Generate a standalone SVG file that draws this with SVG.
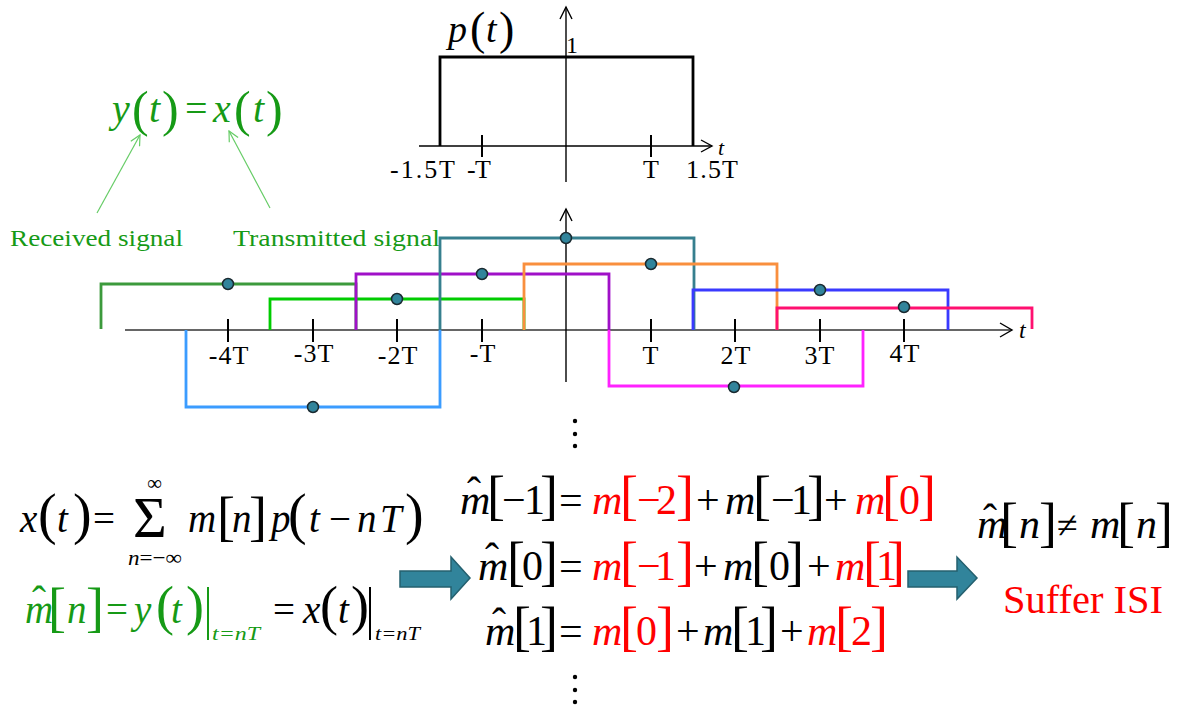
<svg xmlns="http://www.w3.org/2000/svg" width="1177" height="708" viewBox="0 0 1177 708" font-family="'Liberation Serif', 'Times New Roman', serif">
<defs>
<style>
text{font-family:"Liberation Serif","Times New Roman",serif}
.it{font-style:italic}
.eq{font-size:42px}
.br{font-size:54px}
.pa{font-size:56px}
.red{fill:#ff0000}
.grn{fill:#169a16}
.ax{stroke:#000;stroke-width:1.4;fill:none}
.tick{stroke:#000;stroke-width:2}
.lbl{font-size:26px;text-anchor:middle;letter-spacing:1px}
.pulse{fill:none;stroke-width:2.8;stroke-linejoin:miter}
.dot{fill:#31849b;stroke:#1a2a30;stroke-width:1.5}
.bigarrow{fill:#31849b;stroke:#24606f;stroke-width:1.5}
.thin{stroke:#66cc66;stroke-width:1.2;fill:none}
</style>
<marker id="openhead" viewBox="0 0 12 12" refX="11" refY="6" markerWidth="12" markerHeight="12" markerUnits="userSpaceOnUse" orient="auto">
<polyline points="1,1 11,6 1,11" fill="none" stroke="#66cc66" stroke-width="1.2"/>
</marker>
</defs>

<g id="pulse-p">
<line class="ax" x1="419" y1="146" x2="712" y2="146"/>
<polyline class="ax" points="701,140 712,146 701,152"/>
<line class="ax" x1="566" y1="182" x2="566" y2="7"/>
<polyline class="ax" points="560,19 566,7 572,19"/>
<polyline class="pulse" stroke="#000" stroke-width="3" points="440,146 440,57 693,57 693,146"/>
<line class="tick" x1="482" y1="135" x2="482" y2="157"/>
<line class="tick" x1="651" y1="135" x2="651" y2="157"/>
<text x="390" y="178" font-size="26" textLength="65" lengthAdjust="spacing">-1.5T</text>
<text x="467" y="178" font-size="26" textLength="24" lengthAdjust="spacing">-T</text>
<text x="643" y="178" font-size="26">T</text>
<text x="686" y="178" font-size="26" textLength="52" lengthAdjust="spacing">1.5T</text>
<text x="566" y="53" font-size="24">1</text>
<text x="718" y="155" font-size="22" class="it">t</text>
<text font-size="38"><tspan class="it" x="448" y="42">p</tspan><tspan x="470" y="44" font-size="46">(</tspan><tspan class="it" x="486" y="42">t</tspan><tspan x="499" y="44" font-size="46">)</tspan></text>
</g>

<g id="label-yx">
<text class="grn" font-size="40"><tspan class="it" x="112" y="122">y</tspan><tspan x="132" y="126" font-size="50">(</tspan><tspan class="it" x="149" y="122">t</tspan><tspan x="162" y="126" font-size="50">)</tspan><tspan x="185" y="122">=</tspan><tspan class="it" x="213" y="122">x</tspan><tspan x="234" y="126" font-size="50">(</tspan><tspan class="it" x="253" y="122">t</tspan><tspan x="266" y="126" font-size="50">)</tspan></text>
</g>

<g id="label-received">
<text class="grn" x="10" y="246" font-size="23" textLength="173" lengthAdjust="spacingAndGlyphs">Received signal</text>
</g>
<g id="label-transmitted">
<text class="grn" x="233" y="246" font-size="23" textLength="207" lengthAdjust="spacingAndGlyphs">Transmitted signal</text>
</g>

<g id="connectors">
<line class="thin" x1="97" y1="213" x2="140" y2="135" marker-end="url(#openhead)"/>
<line class="thin" x1="270" y1="208" x2="229" y2="131" marker-end="url(#openhead)"/>
<polygon class="bigarrow" points="400,571 451,571 451,557 470,578 451,599 451,587 400,587"/>
<polygon class="bigarrow" points="908,571 957,571 957,557 977,578 957,599 957,587 908,587"/>
</g>

<g id="pulse-train">
<line x1="125" y1="330" x2="1012" y2="330" stroke="#333" stroke-width="1.5"/>
<polyline class="ax" points="1000,323 1012,330 1000,337"/>
<line class="ax" x1="566" y1="382" x2="566" y2="209"/>
<polyline class="ax" points="560,221 566,209 572,221"/>
<g id="ticks">
<line class="tick" x1="228" y1="319" x2="228" y2="342"/>
<line class="tick" x1="313" y1="319" x2="313" y2="342"/>
<line class="tick" x1="397" y1="319" x2="397" y2="342"/>
<line class="tick" x1="482" y1="319" x2="482" y2="342"/>
<line class="tick" x1="651" y1="319" x2="651" y2="342"/>
<line class="tick" x1="735" y1="319" x2="735" y2="342"/>
<line class="tick" x1="820" y1="319" x2="820" y2="342"/>
<line class="tick" x1="904" y1="319" x2="904" y2="342"/>
</g>
<text class="lbl" x="229" y="364">-4T</text>
<text class="lbl" x="314" y="362">-3T</text>
<text class="lbl" x="398" y="364">-2T</text>
<text class="lbl" x="483" y="362">-T</text>
<text class="lbl" x="651" y="364">T</text>
<text class="lbl" x="736" y="364">2T</text>
<text class="lbl" x="820" y="364">3T</text>
<text class="lbl" x="905" y="362">4T</text>
<text x="1019" y="338" font-size="24" class="it">t</text>

<g id="p-m4"><polyline class="pulse" stroke="#3c9a3c" points="101,329 101,284 356,284 356,330"/></g>
<g id="p-m3"><polyline class="pulse" stroke="#3b9cff" points="186,330 186,407 440,407 440,330"/></g>
<g id="p-m2"><polyline class="pulse" stroke="#00cc00" points="270,330 270,299 524,299 524,330"/></g>
<g id="p-m1"><polyline class="pulse" stroke="#a010c8" points="356,330 356,274 609,274 609,330"/></g>
<g id="p-0"><polyline class="pulse" stroke="#367f8e" points="440,330 440,238 694,238 694,330"/></g>
<g id="p-1"><polyline class="pulse" stroke="#f98f3e" points="524,330 524,264 777,264 777,330"/></g>
<g id="p-2"><polyline class="pulse" stroke="#ff22ff" points="609,330 609,386 863,386 863,330"/></g>
<g id="p-3"><polyline class="pulse" stroke="#3a3aff" points="693,330 693,290 948,290 948,330"/></g>
<g id="p-4"><polyline class="pulse" stroke="#ff1070" points="777,330 777,308 1032,308 1032,329"/></g>

<circle class="dot" cx="228" cy="284" r="5.5"/>
<circle class="dot" cx="313" cy="407" r="5.5"/>
<circle class="dot" cx="397" cy="299" r="5.5"/>
<circle class="dot" cx="482" cy="274" r="5.5"/>
<circle class="dot" cx="566" cy="238" r="5.5"/>
<circle class="dot" cx="651" cy="264" r="5.5"/>
<circle class="dot" cx="734" cy="387" r="5.5"/>
<circle class="dot" cx="820" cy="290" r="5.5"/>
<circle class="dot" cx="904" cy="307" r="5.5"/>
</g>

<g id="vdots-1">
<circle cx="575" cy="421" r="2.2"/>
<circle cx="575" cy="434" r="2.2"/>
<circle cx="575" cy="446" r="2.2"/>
</g>

<g id="eq-x">
<text font-size="39"><tspan class="it" x="20" y="532">x</tspan><tspan class="pa" x="38" y="533">(</tspan><tspan class="it" x="57" y="532">t</tspan><tspan class="pa" x="73" y="533">)</tspan><tspan x="93" y="532">=</tspan><tspan x="133" y="537" font-size="58">Σ</tspan><tspan class="it" x="188" y="532">m</tspan><tspan class="br" x="217" y="535">[</tspan><tspan class="it" x="232" y="532">n</tspan><tspan class="br" x="249" y="535">]</tspan><tspan class="it" x="271" y="532">p</tspan><tspan class="pa" x="288" y="533">(</tspan><tspan class="it" x="309" y="532">t</tspan><tspan x="329" y="532">−</tspan><tspan class="it" x="357" y="532">n</tspan><tspan class="it" x="380" y="532">T</tspan><tspan class="pa" x="405" y="533">)</tspan></text>
<text x="147" y="490" font-size="21">∞</text>
<text x="128" y="565" font-size="22" textLength="54" lengthAdjust="spacingAndGlyphs"><tspan class="it">n</tspan>=−∞</text>
</g>

<g id="eq-mhat">
<text class="grn" font-size="39"><tspan class="it" x="25" y="623">m</tspan><tspan x="32" y="615" font-size="42">ˆ</tspan><tspan class="br" x="48" y="626">[</tspan><tspan class="it" x="67" y="623">n</tspan><tspan class="br" x="86" y="626">]</tspan><tspan x="106" y="623">=</tspan><tspan class="it" x="134" y="623">y</tspan><tspan x="156" y="624" font-size="54">(</tspan><tspan class="it" x="171" y="623">t</tspan><tspan x="186" y="624" font-size="54">)</tspan></text>
<line x1="208" y1="587" x2="208" y2="640" stroke="#169a16" stroke-width="2"/>
<text class="grn it" x="212" y="640" font-size="18" textLength="48" lengthAdjust="spacingAndGlyphs">t=nT</text>
<text font-size="39"><tspan x="273" y="623">=</tspan><tspan class="it" x="303" y="623">x</tspan><tspan x="320" y="624" font-size="54">(</tspan><tspan class="it" x="338" y="623">t</tspan><tspan x="351" y="624" font-size="54">)</tspan></text>
<line x1="370" y1="587" x2="370" y2="640" stroke="#000" stroke-width="2"/>
<text class="it" x="375" y="640" font-size="18" textLength="45" lengthAdjust="spacingAndGlyphs">t=nT</text>
</g>

<g id="eq-line1">
<text class="eq"><tspan class="it" x="460" y="514">m</tspan><tspan x="467" y="506">ˆ</tspan><tspan class="br" x="487" y="514">[</tspan><tspan x="502" y="514">−</tspan><tspan x="524" y="514">1</tspan><tspan class="br" x="540" y="514">]</tspan><tspan x="559" y="514">=</tspan><tspan class="it red" x="592" y="514">m</tspan><tspan class="br red" x="620" y="514">[</tspan><tspan class="red" x="637" y="514">−</tspan><tspan class="red" x="656" y="514">2</tspan><tspan class="br red" x="676" y="514">]</tspan><tspan x="696" y="514">+</tspan><tspan class="it" x="725" y="514">m</tspan><tspan class="br" x="753" y="514">[</tspan><tspan x="771" y="514">−</tspan><tspan x="791" y="514">1</tspan><tspan class="br" x="807" y="514">]</tspan><tspan x="824" y="514">+</tspan><tspan class="it red" x="855" y="514">m</tspan><tspan class="br red" x="882" y="514">[</tspan><tspan class="red" x="899" y="514">0</tspan><tspan class="br red" x="918" y="514">]</tspan></text>
</g>

<g id="eq-line2">
<text class="eq"><tspan class="it" x="478" y="580">m</tspan><tspan x="485" y="572">ˆ</tspan><tspan class="br" x="507" y="580">[</tspan><tspan x="522" y="580">0</tspan><tspan class="br" x="540" y="580">]</tspan><tspan x="559" y="580">=</tspan><tspan class="it red" x="592" y="580">m</tspan><tspan class="br red" x="620" y="580">[</tspan><tspan class="red" x="637" y="580">−</tspan><tspan class="red" x="655" y="580">1</tspan><tspan class="br red" x="676" y="580">]</tspan><tspan x="694" y="580">+</tspan><tspan class="it" x="723" y="580">m</tspan><tspan class="br" x="751" y="580">[</tspan><tspan x="769" y="580">0</tspan><tspan class="br" x="786" y="580">]</tspan><tspan x="807" y="580">+</tspan><tspan class="it red" x="835" y="580">m</tspan><tspan class="br red" x="863" y="580">[</tspan><tspan class="red" x="876" y="580">1</tspan><tspan class="br red" x="887" y="580">]</tspan></text>
</g>

<g id="eq-line3">
<text class="eq"><tspan class="it" x="485" y="645">m</tspan><tspan x="492" y="637">ˆ</tspan><tspan class="br" x="513" y="645">[</tspan><tspan x="526" y="645">1</tspan><tspan class="br" x="540" y="645">]</tspan><tspan x="559" y="645">=</tspan><tspan class="it red" x="592" y="645">m</tspan><tspan class="br red" x="620" y="645">[</tspan><tspan class="red" x="636" y="645">0</tspan><tspan class="br red" x="656" y="645">]</tspan><tspan x="676" y="645">+</tspan><tspan class="it" x="703" y="645">m</tspan><tspan class="br" x="731" y="645">[</tspan><tspan x="745" y="645">1</tspan><tspan class="br" x="760" y="645">]</tspan><tspan x="780" y="645">+</tspan><tspan class="it red" x="807" y="645">m</tspan><tspan class="br red" x="835" y="645">[</tspan><tspan class="red" x="851" y="645">2</tspan><tspan class="br red" x="870" y="645">]</tspan></text>
</g>

<g id="vdots-2">
<circle cx="575" cy="677" r="2.2"/>
<circle cx="575" cy="690" r="2.2"/>
<circle cx="575" cy="702" r="2.2"/>
</g>

<g id="eq-neq">
<text class="eq"><tspan class="it" x="977" y="538">m</tspan><tspan x="983" y="533">ˆ</tspan><tspan class="br" x="1000" y="541">[</tspan><tspan class="it" x="1019" y="538">n</tspan><tspan class="br" x="1039" y="541">]</tspan><tspan x="1057" y="538" font-size="38">≠</tspan><tspan class="it" x="1090" y="538">m</tspan><tspan class="br" x="1117" y="541">[</tspan><tspan class="it" x="1136" y="538">n</tspan><tspan class="br" x="1155" y="541">]</tspan></text>
</g>

<g id="label-isi">
<text class="red" x="1003" y="613" font-size="40" textLength="160" lengthAdjust="spacingAndGlyphs">Suffer ISI</text>
</g>
</svg>
